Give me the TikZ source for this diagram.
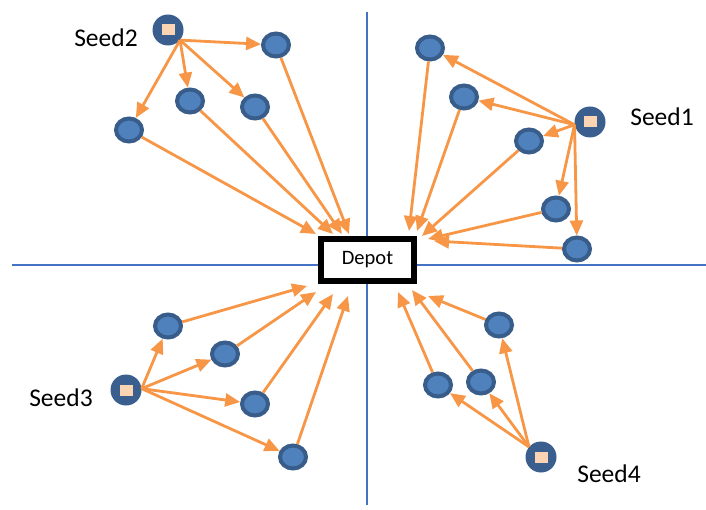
\documentclass[tikz,border=0pt]{standalone}
\usepackage{fontspec}
\setmainfont{Carlito}
\usetikzlibrary{shapes.geometric,arrows.meta}
\definecolor{axisblue}{HTML}{4472C4}
\definecolor{custedge}{HTML}{385D8A}
\definecolor{custfill}{HTML}{4F81BD}
\definecolor{seedfill}{HTML}{3A5E8E}
\definecolor{peach}{HTML}{FBD4B4}
\definecolor{route}{HTML}{F79646}
\tikzset{
  customer/.style={ellipse, draw=custedge, fill=custfill, line width=4bp,
    minimum width=26bp, minimum height=23bp, inner sep=0pt},
  seednode/.style={circle, fill=seedfill, minimum size=31bp, inner sep=0pt,
    path picture={\fill[peach] ([xshift=-6.5bp,yshift=-5.5bp]path picture bounding box.center)
      rectangle ([xshift=6.5bp,yshift=5.5bp]path picture bounding box.center);}},
  depotbox/.style={rectangle, draw=black, fill=white, line width=5.5bp,
    minimum width=93bp, minimum height=42bp, font=\fontsize{20.5bp}{23bp}\selectfont},
  seedlabel/.style={font=\fontsize{25.5bp}{28bp}\selectfont},
  axis/.style={draw=axisblue, line width=1.6bp},
  leg/.style={draw=route, line width=2.8bp, -{Triangle[length=15bp,width=13bp]}},
}
\begin{document}
\begin{tikzpicture}[x=1bp, y=-1bp]
\useasboundingbox (0,0) rectangle (706,510);

% quadrant axes
\coordinate (vtop) at (367,12);
\coordinate (vbot) at (367,505);
\coordinate (hl) at (12,265);
\coordinate (hr) at (706,265);
\path[axis] (vtop) -- (vbot);
\path[axis] (hl) -- (hr);

% depot
\node[depotbox] (depot) at (367.5,260) {Depot};

% seeds and labels
\node[seednode] (s1) at (590,122) {};
\node[seednode] (s2) at (168,30) {};
\node[seednode] (s3) at (126,390) {};
\node[seednode] (s4) at (541,457) {};
\node[seedlabel] (l1) at (662,117) {Seed1};
\node[seedlabel] (l2) at (106,38) {Seed2};
\node[seedlabel] (l3) at (61,398) {Seed3};
\node[seedlabel] (l4) at (609,474) {Seed4};

% customers, quadrant I
\node[customer] (a1) at (430,48) {};
\node[customer] (a2) at (464,97) {};
\node[customer] (a3) at (529,141) {};
\node[customer] (a4) at (556,209) {};
\node[customer] (a5) at (577,249) {};
% quadrant II
\node[customer] (b1) at (276,45) {};
\node[customer] (b2) at (190,101) {};
\node[customer] (b3) at (255,107) {};
\node[customer] (b4) at (129,130) {};
% quadrant III
\node[customer] (c1) at (168,326) {};
\node[customer] (c2) at (225,354) {};
\node[customer] (c3) at (255,404) {};
\node[customer] (c4) at (293,457) {};
% quadrant IV
\node[customer] (d1) at (499,325) {};
\node[customer] (d2) at (481,382) {};
\node[customer] (d3) at (438,385) {};

% arrow tips at the depot
\coordinate (ta1) at (409,231);
\coordinate (ta2) at (417,231);
\coordinate (ta3) at (422,236);
\coordinate (ta4) at (428,239);
\coordinate (ta5) at (434,241);
\coordinate (tb1) at (349,234);
\coordinate (tb2) at (333,234);
\coordinate (tb3) at (342,234);
\coordinate (tb4) at (316,234);
\coordinate (tc1) at (307,286);
\coordinate (tc2) at (316,292);
\coordinate (tc3) at (333,294);
\coordinate (tc4) at (348,296);
\coordinate (td1) at (428,296);
\coordinate (td2) at (412,290);
\coordinate (td3) at (398,292);

% seed departure points
\coordinate (o1) at (s1.190);
\coordinate (o2) at (s2.-40);
\coordinate (o3) at (s3.5);
\coordinate (o4) at (s4.140);

% seed to customers
\foreach \n in {a1,a2,a3,a4,a5} \path[leg] (o1) -- (\n);
\foreach \n in {b1,b2,b3,b4} \path[leg] (o2) -- (\n);
\foreach \n in {c1,c2,c3,c4} \path[leg] (o3) -- (\n);
\foreach \n in {d1,d2,d3} \path[leg] (o4) -- (\n);

% customers to depot
\foreach \n in {a1,a2,a3,a4,a5,b1,b2,b3,b4,c1,c2,c3,c4,d1,d2,d3}
  \path[leg] (\n) -- (t\n);
\end{tikzpicture}
\end{document}
